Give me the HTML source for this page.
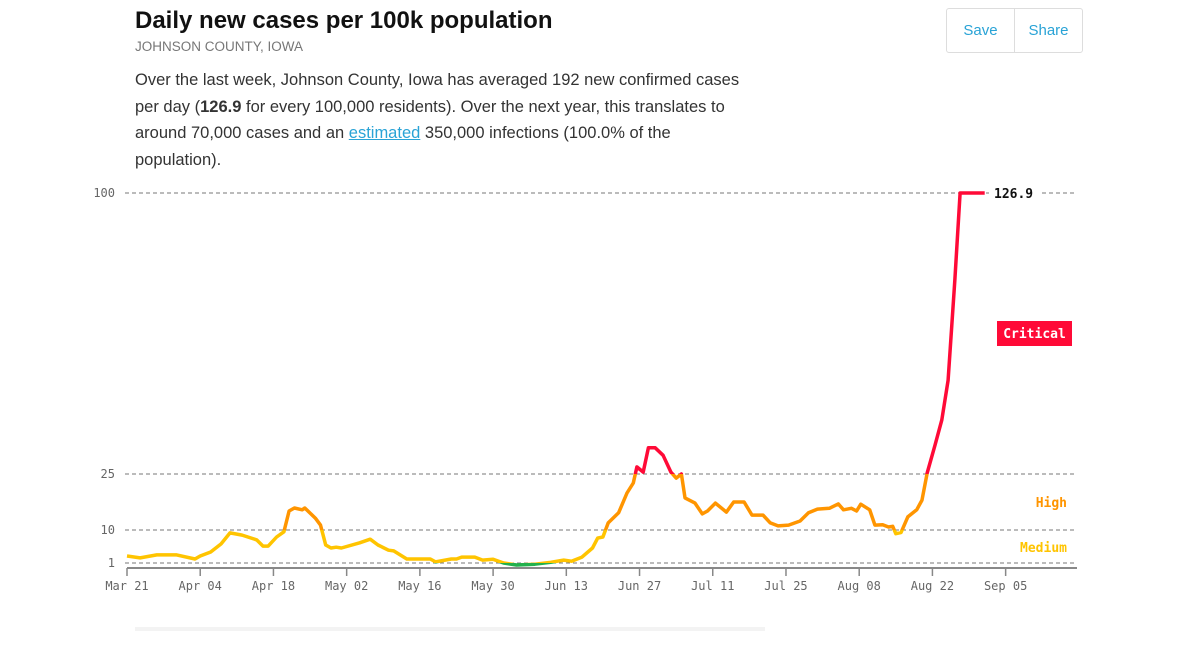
<!DOCTYPE html>
<html><head><meta charset="utf-8">
<style>
body{margin:0;width:1200px;height:665px;background:#fff;overflow:hidden;font-family:"Liberation Sans",sans-serif;position:relative}
.t{position:absolute;left:135px;top:7px;font-size:24px;font-weight:bold;color:#111;margin:0;white-space:nowrap}
.s{position:absolute;left:135px;top:39px;font-size:13.5px;color:#777}
.p{position:absolute;left:135px;top:67px;width:640px;font-size:16.5px;line-height:26.5px;color:#333;margin:0;white-space:nowrap}
.p a{color:#29a3d6;text-decoration:underline}
.btns{position:absolute;left:946px;top:8px;width:135px;height:43px;border:1px solid #ddd;border-radius:3px;display:flex}
.btns div{flex:1;display:flex;align-items:center;justify-content:center;color:#29a3d6;font-size:15px}
.btns div+div{border-left:1px solid #ddd}
svg{position:absolute;left:0;top:0}
.bar{position:absolute;left:135px;top:627px;width:630px;height:4px;background:#f3f3f3}
</style></head><body>
<h1 class="t">Daily new cases per 100k population</h1>
<div class="s">JOHNSON COUNTY, IOWA</div>
<p class="p">Over the last week, Johnson County, Iowa has averaged 192 new confirmed cases<br>per day (<b>126.9</b> for every 100,000 residents). Over the next year, this translates to<br>around 70,000 cases and an <a>estimated</a> 350,000 infections (100.0% of the<br>population).</p>
<div class="btns"><div>Save</div><div>Share</div></div>
<svg id="chart" width="1200" height="665"></svg>
<div class="bar"></div>
<script>
const days=[0,2.5,5.7,9.5,13,14,16,18,19.7,22,24.8,26,27,28.6,30,31,32,33.5,34,36,37,38,39,40,41,44.5,46.5,48,50,51,53.5,58,59,62,63,64,66.5,68,70,72,74.5,78,81,83.5,85,87,89,90,91,92,94,95.6,96.8,97.5,98.7,99.7,101,102.5,104,105,106,106.7,108.6,110,111,112.5,114.6,116,118,119.5,121.6,123,124.5,126.5,128.7,130.3,132,134.3,136,137,138.5,139.5,140.3,142,143,144.5,145.6,146.4,147,148,149.3,151,152,153,154.5,155.8,157,158.3,159.3,164];
const values=[2.9,2.4,3.2,3.2,2.1,2.9,4,6.2,9.2,8.6,7.3,5.6,5.6,8.1,9.5,15.1,15.9,15.4,15.9,13.2,11.3,5.9,5.1,5.3,5.1,6.5,7.5,5.9,4.5,4.3,2.1,2.1,1.3,2.1,2.1,2.6,2.6,1.8,2,1,0.5,0.7,1.2,1.8,1.5,2.6,5.1,7.8,8.1,11.9,14.6,19.9,22.6,26.9,25.5,32,32,30,25.5,23.9,25,18.6,17.2,14.3,15.1,17.2,14.8,17.5,17.5,14,14,11.9,11.1,11.3,12.4,14.6,15.6,15.8,17,15.4,15.8,15.1,16.9,15.4,11.3,11.4,10.8,11,9,9.3,13.5,15.4,18,25.3,32.7,39.4,50,77,126.9,126.9];
const yTicks=[1,10,25,100];
const xTickLabels=["Mar 21","Apr 04","Apr 18","May 02","May 16","May 30","Jun 13","Jun 27","Jul 11","Jul 25","Aug 08","Aug 22","Sep 05"];
const xTickDays=[0,14,28,42,56,70,84,98,112,126,140,154,168];
const latest=126.9;

const NS="http://www.w3.org/2000/svg";
const svg=document.getElementById('chart');
function X(d){return 127+d*5.23;}
function Y(v){v=Math.min(v,100);
 if(v<=1)return 567-v*4;
 if(v<=10)return 563-(v-1)*33/9;
 if(v<=25)return 530-(v-10)*56/15;
 return 474-(v-25)*281/75;}
function el(t,a,p){const e=document.createElementNS(NS,t);for(const k in a)e.setAttribute(k,a[k]);(p||svg).appendChild(e);return e;}
const mono='"DejaVu Sans Mono","Liberation Mono",monospace';
yTicks.forEach(v=>{
 const g=el('line',{x1:125,x2:1075,y1:Y(v),y2:Y(v),stroke:'#777','stroke-dasharray':'4,3','stroke-width':1});
 
 
 const t=el('text',{x:115,y:Y(v)+4,'text-anchor':'end','font-family':mono,'font-size':12,fill:'#666'});
 t.textContent=v;
 
 
});
const ax=el('line',{x1:127,x2:1077,y1:568,y2:568,stroke:'#888','stroke-width':2});


xTickDays.forEach((d,i)=>{
 const tk=el('line',{x1:X(d),x2:X(d),y1:568,y2:576,stroke:'#888','stroke-width':1.5});
 
 
 const t=el('text',{x:X(d),y:590,'text-anchor':'middle','font-family':mono,'font-size':12,fill:'#666'});
 t.textContent=xTickLabels[i];
 
 
});
const defs=el('defs',{});
const bands=[['green','#22b14c',Y(1),700],['yellow','#ffc400',Y(10),Y(1)],['orange','#ff9500',Y(25),Y(10)],['red','#ff0a37',0,Y(25)]];
let dstr='';days.forEach((d,i)=>{dstr+=(i?'L':'M')+X(d).toFixed(1)+','+Y(values[i]).toFixed(1);});
bands.forEach(b=>{
 const cp=el('clipPath',{id:'c'+b[0]},defs);
 el('rect',{x:0,y:b[2],width:1200,height:b[3]-b[2]},cp);
 const p=el('path',{d:dstr,fill:'none',stroke:b[1],'stroke-width':3.5,'stroke-linejoin':'round','clip-path':'url(#c'+b[0]+')'});
 
 
});
const lr=el('rect',{x:989,y:185,width:50,height:17,fill:'#fff'});


const lt=el('text',{x:994,y:198,'font-family':mono,'font-size':13,'font-weight':'bold',fill:'#111'});
lt.textContent=latest.toFixed(1);


const cr=el('rect',{x:997,y:321,width:75,height:25,fill:'#ff0a37'});


const ct=el('text',{x:1034.5,y:338,'text-anchor':'middle','font-family':mono,'font-size':13,'font-weight':'bold',fill:'#fff'});
ct.textContent='Critical';


const ht=el('text',{x:1067,y:507,'text-anchor':'end','font-family':mono,'font-size':13,'font-weight':'bold',fill:'#ff9500'});
ht.textContent='High';


const mt=el('text',{x:1067,y:552,'text-anchor':'end','font-family':mono,'font-size':13,'font-weight':'bold',fill:'#ffc400'});
mt.textContent='Medium';


</script>
</body></html>
